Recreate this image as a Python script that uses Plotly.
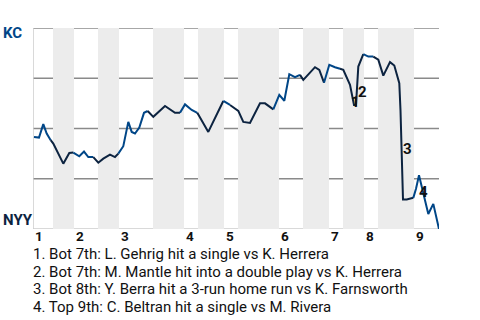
import plotly.graph_objects as go

# Game progress (x) and KC win probability % (y)
progress = [1, 6, 10.3, 13.7, 17.7, 20.3, 30.3, 36.3, 40.3, 46.3, 51, 55.3, 60.3, 65.3, 70.3, 77, 82, 85.3,
            90.3, 95.3, 98.7, 102, 106.3, 111, 114.7, 120.3, 132, 142, 147, 152, 158.7, 164.3, 175.3, 190.3,
            197, 205.3, 210.3, 217, 227, 232, 240.3, 246.3, 251.3, 256.3, 262, 267, 270.3, 282, 286.3, 291,
            296.3, 302, 307, 310.3, 317, 321, 323, 325.3, 330.3, 335.3, 340.3, 345.3, 350.3, 357, 361.3,
            366.3, 367.5, 368, 369.3, 370, 373.7, 380.3, 383, 386, 390.3, 395.3, 400.3, 406]
kc_win_pct = [45.8, 45.5, 52.2, 47.5, 44.2, 42.5, 32.5, 37.8, 38, 36.2, 38.5, 35.8, 35.8, 33, 35, 37, 35.8, 37.5,
              41.2, 53.3, 48.3, 47.5, 50.5, 57.8, 58.7, 55.8, 61.2, 57.8, 57.8, 62, 59.2, 57.8, 48.3, 63.7,
              61.7, 58.8, 53.3, 52.8, 62.5, 62.5, 59.5, 66.7, 63.8, 77, 75.5, 76.7, 74.2, 80.5, 79.2, 72.8,
              81.7, 80.5, 79.7, 79.2, 71.7, 61.7, 61.7, 80.8, 87, 85.8, 85.8, 84.2, 76.3, 83, 81.3,
              72.5, 59, 48, 25, 14.7, 14.7, 15.5, 20, 26.7, 17.5, 7.5, 12.5, 0]

# Half-inning start points on the progress scale (top 1, bot 1, top 2, ...) and game end
half_starts = [0, 20, 41, 65, 86, 120, 151, 165, 191, 205, 246, 270, 296, 310, 331, 345, 381]
game_end = 406
inning_labels = ["1", "2", "3", "4", "5", "6", "7", "8", "9"]

# Key plays
play_marks = ["1", "2", "3", "4"]
play_x = [322, 329, 374, 390]
play_y = [63, 68, 40, 18.5]
play_notes = [
    "1. Bot 7th: L. Gehrig hit a single vs K. Herrera",
    "2. Bot 7th: M. Mantle hit into a double play vs K. Herrera",
    "3. Bot 8th: Y. Berra hit a 3-run home run vs K. Farnsworth",
    "4. Top 9th: C. Beltran hit a single vs M. Rivera",
]

KC_BLUE = "#004687"
NYY_NAVY = "#0C2340"
FONT = "Roboto"

fig = go.Figure()

# line segments colored by half inning (top = KC batting blue, bottom = NYY navy)
bounds = half_starts + [game_end]
for i in range(len(half_starts)):
    lo, hi = bounds[i], bounds[i + 1]
    idx = [k for k, x in enumerate(progress) if lo <= x < hi or (i == len(half_starts) - 1 and x == hi)]
    if not idx:
        continue
    if idx[0] > 0:
        idx = [idx[0] - 1] + idx
    fig.add_trace(go.Scatter(
        x=[progress[k] for k in idx], y=[kc_win_pct[k] for k in idx],
        mode="lines", line=dict(color=KC_BLUE if i % 2 == 0 else NYY_NAVY, width=2),
        hoverinfo="skip", showlegend=False))

shapes = []
# shaded bottom halves
for i in range(1, len(half_starts), 2):
    shapes.append(dict(type="rect", xref="x", yref="y", x0=half_starts[i], x1=bounds[i + 1],
                       y0=0, y1=100, fillcolor="#ececec", line=dict(width=0), layer="below"))
# gridlines
for g in [25, 50, 75, 100]:
    shapes.append(dict(type="line", xref="paper", yref="y", x0=0, x1=1, y0=g, y1=g,
                       line=dict(color="#8a8a8a", width=1.5), layer="below"))
# axis lines
shapes.append(dict(type="line", xref="paper", yref="y", x0=0, x1=1, y0=0, y1=0,
                   line=dict(color="#cccccc", width=1.5), layer="below"))
shapes.append(dict(type="line", xref="x", yref="paper", x0=0, x1=0, y0=0, y1=1,
                   line=dict(color="#cccccc", width=1.5), layer="below"))

annotations = []
# inning labels
inning_starts = half_starts[0::2]
for lab, x in zip(inning_labels, inning_starts):
    annotations.append(dict(x=x, y=0, xref="x", yref="paper", text=lab, showarrow=False,
                            xanchor="left", yanchor="top", xshift=1, yshift=2, borderpad=0,
                            font=dict(family=FONT, size=13.5, color="#111111", weight="bold")))
# team labels
annotations.append(dict(x=0, y=100, xref="paper", yref="y", text="KC", showarrow=False,
                        xanchor="left", yanchor="middle", xshift=-32, yshift=-5,
                        font=dict(family=FONT, size=15, color=KC_BLUE, weight="bold")))
annotations.append(dict(x=0, y=0, xref="paper", yref="y", text="NYY", showarrow=False,
                        xanchor="left", yanchor="middle", xshift=-32, yshift=9,
                        font=dict(family=FONT, size=15, color=NYY_NAVY, weight="bold")))
# play markers
for m, x, y in zip(play_marks, play_x, play_y):
    annotations.append(dict(x=x, y=y, xref="x", yref="y", text=m, showarrow=False,
                            xanchor="center", yanchor="middle",
                            font=dict(family=FONT, size=15, color="#111111", weight="bold")))
# notes
for j, note in enumerate(play_notes):
    annotations.append(dict(x=0, y=0, xref="paper", yref="paper", text=note, showarrow=False,
                            xanchor="left", yanchor="middle", xshift=-1, yshift=-25 - 17.6 * j,
                            borderpad=0,
                            font=dict(family=FONT, size=15, color="#111111")))

fig.update_layout(
    width=480, height=320,
    margin=dict(l=33, r=41, t=28, b=91),
    paper_bgcolor="white", plot_bgcolor="white",
    xaxis=dict(range=[0, game_end], showgrid=False, zeroline=False, showticklabels=False, showline=False),
    yaxis=dict(range=[0, 100], showgrid=False, zeroline=False, showticklabels=False, showline=False),
    shapes=shapes, annotations=annotations,
)

fig.write_html("out.html")
